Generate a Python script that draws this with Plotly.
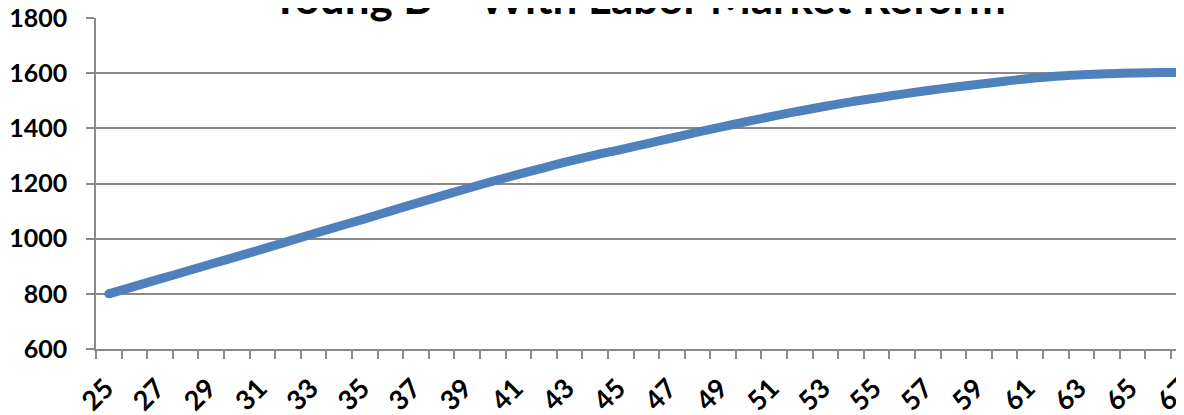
import plotly.graph_objects as go

title_text = "Young B \u2013 With Labor Market Reform"

ages = list(range(25, 68))
values = [800, 827, 854, 881, 908, 935, 962, 990, 1018, 1045,
          1072, 1100, 1128, 1155, 1182, 1208, 1233, 1257, 1281, 1303,
          1323, 1344, 1365, 1386, 1406, 1426, 1445, 1463, 1480, 1496,
          1510, 1524, 1537, 1549, 1560, 1571, 1581, 1589, 1594, 1598,
          1601, 1602, 1603]

x_tick_vals = list(range(25, 68, 2))
x_tick_text = [str(v) for v in x_tick_vals]
y_tick_vals = [600, 800, 1000, 1200, 1400, 1600, 1800]

GRAY = "#8a8a8a"
BLUE = "#4F81BD"
FONT = "Lato"

fig = go.Figure()
fig.add_trace(go.Scatter(
    x=ages, y=values, mode="lines",
    line=dict(color=BLUE, width=9, shape="spline"),
    hoverinfo="skip", showlegend=False,
))
fig.add_trace(go.Scatter(
    x=ages[:1], y=values[:1], mode="markers",
    marker=dict(color=BLUE, size=9),
    hoverinfo="skip", showlegend=False,
))

fig.update_layout(
    width=1184, height=415,
    margin=dict(l=88, r=0, t=10, b=74, autoexpand=False),
    paper_bgcolor="white", plot_bgcolor="white",
    font=dict(family=FONT, color="black"),
    annotations=[dict(
        text=title_text, xref="paper", yref="paper",
        x=0.5, y=1, xanchor="center", yanchor="bottom", yshift=-7, xshift=-6,
        showarrow=False,
        font=dict(family=FONT, size=44, weight="bold", color="black"),
    )],
)

fig.update_xaxes(
    range=[24.5, 67.32], automargin=False,
    tickmode="array", tickvals=x_tick_vals, ticktext=x_tick_text,
    tickangle=-45, ticks="", ticklabelstandoff=11, ticklabelshift=-3,
    ticklabeloverflow="allow",
    tickfont=dict(family=FONT, size=27, weight="bold", color="black"),
    showgrid=False, zeroline=False,
    showline=True, linecolor=GRAY, linewidth=1.5,
    minor=dict(ticks="outside", tick0=24.5, dtick=1, ticklen=8,
               tickcolor=GRAY, tickwidth=1.5, showgrid=False),
)
fig.update_yaxes(
    range=[600, 1800], automargin=False, tickmode="array", tickvals=y_tick_vals,
    ticks="outside", ticklen=8, tickcolor=GRAY, tickwidth=1.5,
    ticklabelstandoff=14, ticklabeloverflow="allow",
    tickfont=dict(family=FONT, size=25, weight="bold", color="black"),
    showgrid=True, gridcolor=GRAY, gridwidth=1.5,
    zeroline=False, showline=True, linecolor=GRAY, linewidth=1.5,
)

fig.write_html("out.html")
